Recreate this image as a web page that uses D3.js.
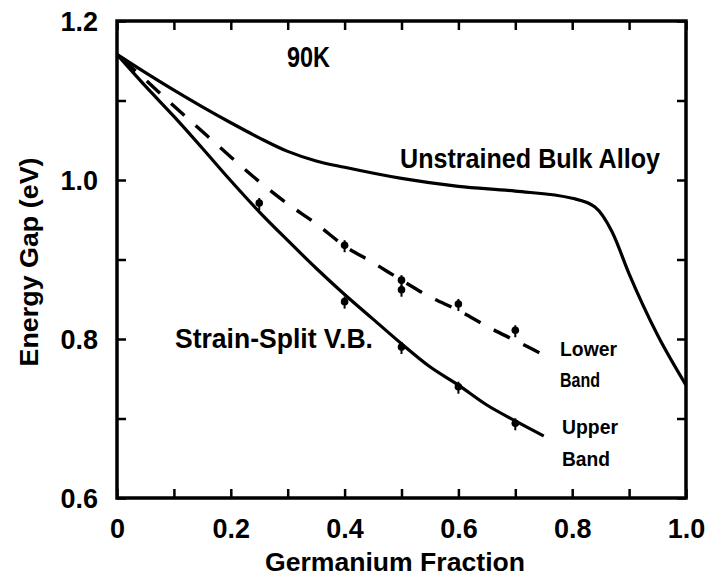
<!DOCTYPE html>
<html>
<head>
<meta charset="utf-8">
<script src="https://cdn.jsdelivr.net/npm/d3@7"></script>
<style>
  html, body { margin: 0; padding: 0; background: #fff; }
  svg { display: block; }
  text { font-family: "Liberation Sans", Arial, sans-serif; font-weight: bold; fill: #000; }
</style>
</head>
<body>
<svg id="chart"></svg>
<script>
// Germanium fraction vs energy gap, 90K
const bulkX = [0, 0.05, 0.1, 0.15, 0.2, 0.25, 0.3, 0.35, 0.4, 0.5, 0.6, 0.7, 0.8, 0.84, 0.87, 0.9, 0.95, 1.0];
const bulkY = [1.158, 1.135, 1.113, 1.092, 1.072, 1.053, 1.036, 1.024, 1.016, 1.002, 0.992, 0.986, 0.977, 0.966, 0.935, 0.882, 0.805, 0.742];

const lowerX = [0, 0.05, 0.1, 0.15, 0.2, 0.25, 0.3, 0.35, 0.4, 0.45, 0.5, 0.55, 0.6, 0.65, 0.7, 0.75];
const lowerY = [1.158, 1.126, 1.093, 1.061, 1.029, 0.998, 0.970, 0.945, 0.917, 0.896, 0.874, 0.853, 0.836, 0.816, 0.798, 0.780];

const upperX = [0, 0.05, 0.1, 0.15, 0.2, 0.25, 0.3, 0.35, 0.4, 0.45, 0.5, 0.55, 0.6, 0.65, 0.7, 0.75];
const upperY = [1.158, 1.118, 1.080, 1.040, 0.999, 0.960, 0.924, 0.889, 0.856, 0.825, 0.794, 0.765, 0.742, 0.717, 0.697, 0.678];

// measured points
const upperPtX = [0.25, 0.4, 0.5, 0.6, 0.7];
const upperPtY = [0.971, 0.847, 0.790, 0.740, 0.694];
const lowerPtX = [0.4, 0.5, 0.5, 0.6, 0.7];
const lowerPtY = [0.918, 0.874, 0.862, 0.844, 0.811];

const xTicks = [0, 0.1, 0.2, 0.3, 0.4, 0.5, 0.6, 0.7, 0.8, 0.9, 1.0];
const xLabels = ['0', '', '0.2', '', '0.4', '', '0.6', '', '0.8', '', '1.0'];
const yTicks = [0.6, 0.7, 0.8, 0.9, 1.0, 1.1, 1.2];
const yLabels = ['0.6', '', '0.8', '', '1.0', '', '1.2'];

const W = 708, H = 577;
const pLeft = 117, pRight = 686, pTop = 21, pBottom = 498;

const svg = d3.select('#chart').attr('width', W).attr('height', H);

const x = d3.scaleLinear().domain([0, 1]).range([pLeft, pRight]);
const y = d3.scaleLinear().domain([0.6, 1.2]).range([pBottom, pTop]);

const zip = (xs, ys) => xs.map((v, i) => [v, ys[i]]);

// ticks (inward on all four sides)
const tickLen = 9;
const fmtX = d => xLabels[xTicks.findIndex(t => Math.abs(t - d) < 1e-6)];
const fmtY = d => yLabels[yTicks.findIndex(t => Math.abs(t - d) < 1e-6)];

const gb = svg.append('g').attr('transform', `translate(0,${pBottom})`)
  .call(d3.axisBottom(x).tickValues(xTicks).tickSizeInner(-tickLen).tickSizeOuter(0).tickFormat(fmtX));
gb.selectAll('text').attr('y', 40).attr('dy', 0).style('font-size', '27px');

const gt = svg.append('g').attr('transform', `translate(0,${pTop})`)
  .call(d3.axisTop(x).tickValues(xTicks).tickSizeInner(-tickLen).tickSizeOuter(0).tickFormat(''));

const gl = svg.append('g').attr('transform', `translate(${pLeft},0)`)
  .call(d3.axisLeft(y).tickValues(yTicks).tickSizeInner(-tickLen).tickSizeOuter(0).tickFormat(fmtY));
gl.selectAll('text').attr('x', -19).attr('dy', '0.36em').style('font-size', '27px');

const gr = svg.append('g').attr('transform', `translate(${pRight},0)`)
  .call(d3.axisRight(y).tickValues(yTicks).tickSizeInner(-tickLen).tickSizeOuter(0).tickFormat(''));

[gb, gt, gl, gr].forEach(g => {
  g.select('.domain').remove();
  g.selectAll('line').attr('stroke', '#000').attr('stroke-width', 2.5);
  g.selectAll('text').attr('fill', '#000').style('font-family', '"Liberation Sans", Arial, sans-serif').style('font-weight', 'bold');
});

// frame
svg.append('rect')
  .attr('x', pLeft).attr('y', pTop)
  .attr('width', pRight - pLeft).attr('height', pBottom - pTop)
  .attr('fill', 'none').attr('stroke', '#000').attr('stroke-width', 3.5);

// curves
const line = d3.line().x(d => x(d[0])).y(d => y(d[1])).curve(d3.curveMonotoneX);

svg.append('path').datum(zip(bulkX, bulkY))
  .attr('d', line).attr('fill', 'none').attr('stroke', '#000').attr('stroke-width', 3.2);

svg.append('path').datum(zip(upperX, upperY))
  .attr('d', line).attr('fill', 'none').attr('stroke', '#000').attr('stroke-width', 3.2);

svg.append('path').datum(zip(lowerX, lowerY))
  .attr('d', line).attr('fill', 'none').attr('stroke', '#000').attr('stroke-width', 3.4)
  .attr('stroke-dasharray', '18,15').attr('stroke-dashoffset', -40);

// data points
const pts = zip(upperPtX, upperPtY).concat(zip(lowerPtX, lowerPtY));
const pg = svg.append('g');
pg.selectAll('circle').data(pts).join('circle')
  .attr('cx', d => x(d[0])).attr('cy', d => y(d[1])).attr('r', 3.8).attr('fill', '#000');
pg.selectAll('line').data(pts).join('line')
  .attr('x1', d => x(d[0])).attr('x2', d => x(d[0]))
  .attr('y1', d => y(d[1]) - 5).attr('y2', d => y(d[1]) + 7)
  .attr('stroke', '#000').attr('stroke-width', 2);

// labels
function label(txt, tx, ty, size, len) {
  svg.append('text').attr('x', tx).attr('y', ty)
    .style('font-size', size + 'px')
    .attr('textLength', len).attr('lengthAdjust', 'spacingAndGlyphs')
    .text(txt);
}
label('90K', 287, 67, 29, 43);
label('Unstrained Bulk Alloy', 400, 168, 27, 260);
label('Strain-Split V.B.', 175, 348, 27, 198);
label('Lower', 560, 356, 20, 57);
label('Band', 560, 387, 20, 40);
label('Upper', 562, 434, 20, 56);
label('Band', 562, 466, 20, 48);

// axis titles
label('Germanium Fraction', 265, 571, 26, 260);
svg.append('text')
  .attr('transform', 'translate(38,262) rotate(-90)')
  .attr('text-anchor', 'middle')
  .style('font-size', '26px')
  .attr('textLength', 209).attr('lengthAdjust', 'spacingAndGlyphs')
  .text('Energy Gap (eV)');
</script>
</body>
</html>
